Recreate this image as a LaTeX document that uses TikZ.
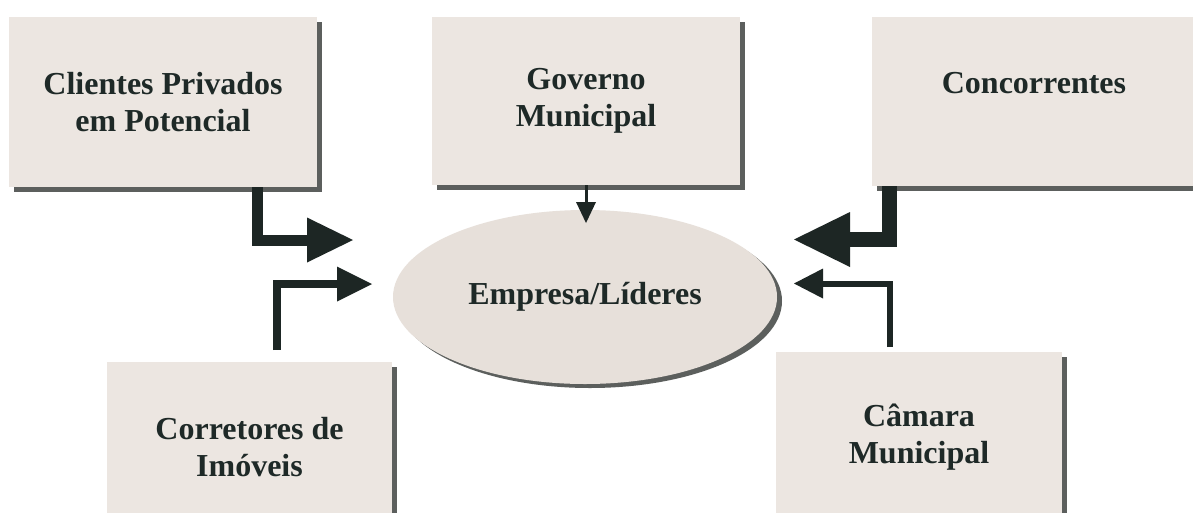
\documentclass[tikz,border=0pt]{standalone}
\usepackage{fontspec}
\setmainfont{Liberation Serif}
\usetikzlibrary{arrows.meta,shadows,shapes.geometric}

\definecolor{boxfill}{HTML}{ECE6E1}
\definecolor{ovalfill}{HTML}{E7E0DA}
\definecolor{shade}{HTML}{5C5F5D}
\definecolor{ink}{HTML}{1E2927}
\definecolor{arrowink}{HTML}{1D2624}

\tikzset{
  actor/.style={rectangle, fill=boxfill, inner sep=0pt, align=center,
    text=ink, font=\fontsize{32}{37}\selectfont\bfseries,
    drop shadow={shadow xshift=5pt, shadow yshift=-5pt, fill=shade, opacity=1}},
  core/.style={ellipse, fill=ovalfill, inner sep=0pt, text=ink,
    font=\fontsize{32}{37}\selectfont\bfseries,
    minimum width=384pt, minimum height=174pt,
    drop shadow={shadow xshift=5pt, shadow yshift=-4pt, fill=shade, opacity=1}},
  flow/.style={draw=arrowink, line join=miter, line cap=butt,
    line width=#1},
}

\begin{document}
\begin{tikzpicture}[x=1pt, y=-1pt]
  \clip (0,0) rectangle (1193,512);
  \fill[white] (0,0) rectangle (1193,512);

  % stakeholder boxes
  \node[actor, minimum width=308pt, minimum height=170pt] (b1) at (163,102)
    {Clientes Privados\\em Potencial};
  \node[actor, minimum width=308pt, minimum height=168pt] (b2) at (586,101)
    {Governo\\Municipal};
  \node[actor, minimum width=324pt, minimum height=169pt] (b3) at (1034,101.5)
    {Concorrentes\\\mbox{}};
  \node[actor, minimum width=285pt, minimum height=170pt] (b4) at (249.5,447)
    {Corretores de\\Imóveis};
  \node[actor, minimum width=286pt, minimum height=170pt] (b5) at (919,437)
    {Câmara\\Municipal};

  % the company in the middle
  \node[core] (emp) at (585,297) {Empresa/Líderes};

  % bends and tips of the arrows
  \coordinate (kA) at (257.5,240);
  \coordinate (tA) at (353,240);
  \coordinate (sB) at (277,350);
  \coordinate (kB) at (277,284);
  \coordinate (tB) at (372,284);
  \coordinate (kC) at (889.5,239.5);
  \coordinate (tC) at (794,239.5);
  \coordinate (sD) at (889.5,347);
  \coordinate (kD) at (889.5,283.5);
  \coordinate (tD) at (794,283.5);
  \coordinate (tE) at (586,223);

  \draw[flow=11pt, -{Triangle[length=46pt, width=45pt, line width=0pt]}]
    (b1.south -| kA) -- (kA) -- (tA);
  \draw[flow=7.5pt, -{Triangle[length=35pt, width=35pt, line width=0pt]}]
    (sB) -- (kB) -- (tB);
  \draw[flow=15pt, -{Triangle[length=56pt, width=55pt, line width=0pt]}]
    (b3.south -| kC) -- (kC) -- (tC);
  \draw[flow=6pt, -{Triangle[length=29pt, width=30pt, line width=0pt]}]
    (sD) -- (kD) -- (tD);
  \draw[flow=3pt, -{Triangle[length=21pt, width=20pt, line width=0pt]}]
    (b2.south) -- (tE);
\end{tikzpicture}
\end{document}
